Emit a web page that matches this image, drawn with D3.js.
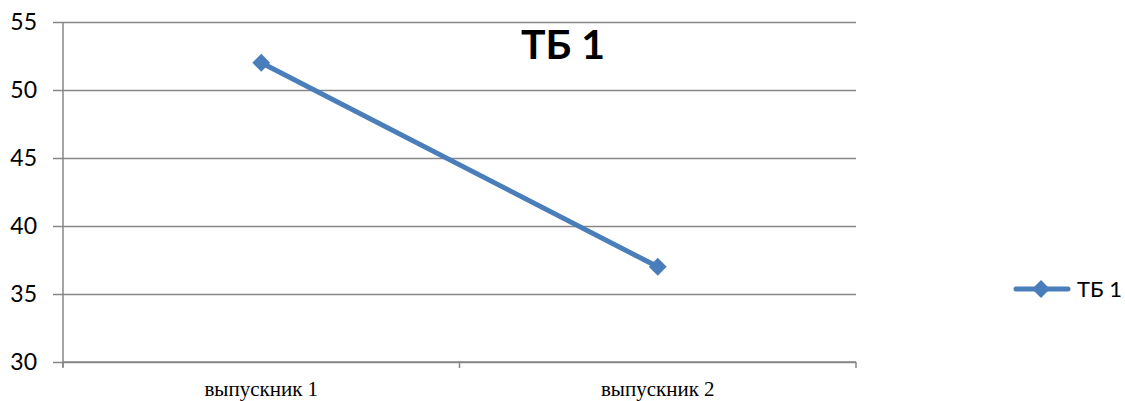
<!DOCTYPE html>
<html><head><meta charset="utf-8">
<script src="https://cdn.jsdelivr.net/npm/d3@7"></script>
<style>body{margin:0;background:#fff}svg{display:block}</style>
</head><body>
<script>
const categories = ["выпускник 1", "выпускник 2"];
const seriesName = "ТБ 1";
const values = [52, 37];
const yTicks = [30, 35, 40, 45, 50, 55];

(function () {
const W = 1125, H = 401;
const svg = d3.select("body").append("svg").attr("width", W).attr("height", H);
const mLeft = 63, mRight = 856, mTop = 22, mBottom = 362;
const color = "#4A7EBB", gridColor = "#868686";

const y = d3.scaleLinear().domain([30, 55]).range([mBottom, mTop]);
const x = d3.scaleBand().domain(categories).range([mLeft, mRight]);

// gridlines
const yAxis = d3.axisLeft(y).tickValues(yTicks).tickSize(-(mRight - mLeft)).tickPadding(26);
const gy = svg.append("g").attr("transform", `translate(${mLeft},0)`).call(yAxis);
gy.select(".domain").remove();
gy.selectAll(".tick line").attr("stroke", gridColor).attr("stroke-width", 1.5).attr("x1", -10);
gy.selectAll(".tick text").attr("font-family", "Lato, 'Open Sans', sans-serif").attr("font-size", 23).attr("fill", "#000");

// vertical axis line
svg.append("line").attr("x1", mLeft).attr("x2", mLeft).attr("y1", mTop).attr("y2", mBottom + 5)
  .attr("stroke", gridColor).attr("stroke-width", 1.5);

// x axis
const xAxis = d3.axisBottom(x).tickSize(0).tickPadding(19);
const gx = svg.append("g").attr("transform", `translate(0,${mBottom})`).call(xAxis);
gx.select(".domain").attr("stroke", gridColor).attr("stroke-width", 1.5).attr("d", `M${mLeft},0H${mRight}`);
gx.selectAll(".tick text").attr("font-family", "'Liberation Serif', 'Times New Roman', serif").attr("font-size", 21).attr("fill", "#000");
const bounds = [mLeft, ...categories.slice(1).map(c => x(c)), mRight];
gx.selectAll(".btick").data(bounds).enter().append("line")
  .attr("x1", d => d).attr("x2", d => d).attr("y1", 0).attr("y2", 6)
  .attr("stroke", gridColor).attr("stroke-width", 1.5);

// line
const pts = categories.map((c, i) => [x(c) + x.bandwidth() / 2, y(values[i])]);
svg.append("path").attr("d", d3.line()(pts)).attr("fill", "none")
  .attr("stroke", color).attr("stroke-width", 5).attr("stroke-linecap", "round");
const diamond = d3.symbol().type(d3.symbolSquare).size(160);
svg.selectAll(".pt").data(pts).enter().append("path")
  .attr("d", diamond).attr("transform", d => `translate(${d[0]},${d[1]}) rotate(45)`)
  .attr("fill", color);

// title
svg.append("text").attr("x", 563).attr("y", 59).attr("text-anchor", "middle")
  .attr("font-family", "Lato, 'Open Sans', sans-serif").attr("font-weight", "bold")
  .attr("font-size", 41).attr("fill", "#000").text(seriesName);

// legend
svg.append("line").attr("x1", 1016).attr("x2", 1068).attr("y1", 289).attr("y2", 289)
  .attr("stroke", color).attr("stroke-width", 5).attr("stroke-linecap", "round");
svg.append("path").attr("d", diamond).attr("transform", "translate(1041,289) rotate(45)").attr("fill", color);
svg.append("text").attr("x", 1077).attr("y", 297)
  .attr("font-family", "Lato, 'Open Sans', sans-serif").attr("font-size", 22).attr("fill", "#000").text(seriesName);
})();
</script>
</body></html>
